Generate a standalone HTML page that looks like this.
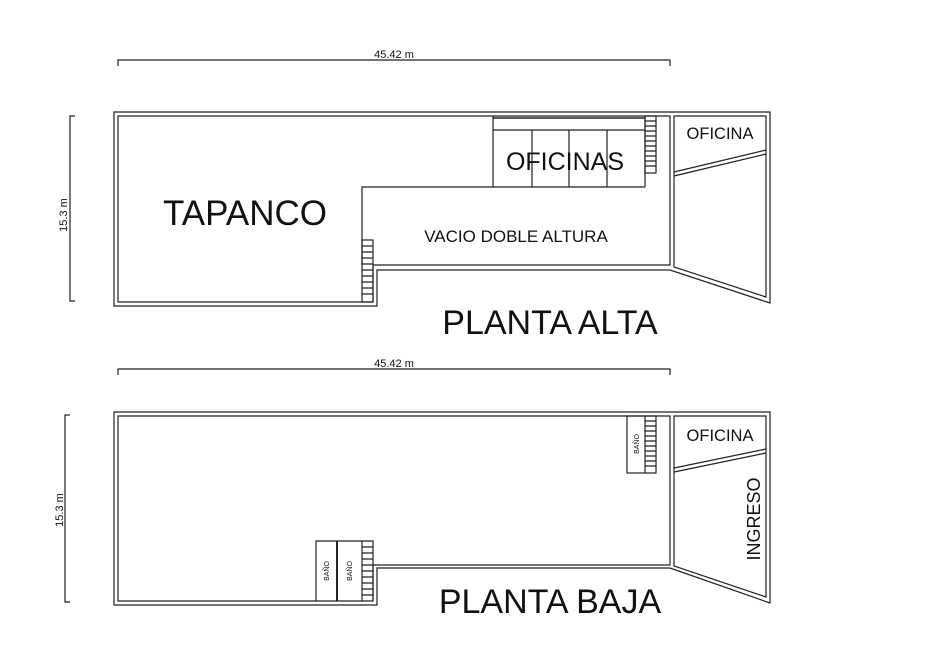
<!DOCTYPE html>
<html><head><meta charset="utf-8"><style>
html,body{margin:0;padding:0;background:#fff;}
svg{display:block;font-family:"Liberation Sans",sans-serif;}
</style></head><body>
<svg width="952" height="661" viewBox="0 0 952 661" xmlns="http://www.w3.org/2000/svg">
<g fill="none" stroke="#222" stroke-width="1.2">
<path d="M118 66 V60 H670 V66"/>
<path d="M75 116 H70 V301 H75"/>
<path d="M114 112 H770 V303 L670 270 H377 V306 H114 Z"/>
<path d="M118 116 H670 V265 H373 V302 H118 Z"/>
<path d="M674 116 H766 V297 L674 267 Z"/>
<path d="M674 172 L766 150 M674 176 L766 154"/>
<path d="M362 265 V187 H645"/>
<path d="M493 116 V187 M493 130 H645 M532 130 V187 M569 130 V187 M607 130 V187 M645 116 V187"/>
<path d="M493 118 H645" stroke-width="1.6"/>
<rect x="645" y="116" width="11" height="57"/>
<path d="M645 121H656M645 126H656M645 131H656M645 136H656M645 141H656M645 146H656M645 151H656M645 156H656M645 161H656M645 166H656"/>
<rect x="362" y="240" width="11" height="62"/>
<path d="M362 246H373M362 252H373M362 258H373M362 264H373M362 270H373M362 276H373M362 282H373M362 288H373M362 294H373"/>

<path d="M118 375 V369 H670 V375"/>
<path d="M70 415 H65 V602 H70"/>
<path d="M114 412 H770 V603 L670 568 H377 V605 H114 Z"/>
<path d="M118 416 H670 V565 H373 V601 H118 Z"/>
<path d="M674 416 H766 V597 L674 566 Z"/>
<path d="M674 468 L766 449 M674 472 L766 453"/>
<rect x="627" y="416" width="29" height="57"/>
<path d="M645 416 V473"/>
<path d="M645 421H656M645 426H656M645 431H656M645 436H656M645 441H656M645 446H656M645 451H656M645 456H656M645 461H656M645 466H656"/>
<path d="M316 601 V541 H373 V601"/>
<path d="M337 541 V601" stroke-width="2"/>
<path d="M362 541 V601"/>
<path d="M362 547H373M362 553H373M362 559H373M362 565H373M362 571H373M362 577H373M362 583H373M362 589H373M362 595H373"/>
</g>
<g fill="#111">
<text x="394" y="58" font-size="11" text-anchor="middle">45.42 m</text>
<text x="394" y="367" font-size="11" text-anchor="middle">45.42 m</text>
<text transform="translate(67,215) rotate(-90)" font-size="11" text-anchor="middle">15.3 m</text>
<text transform="translate(63,510) rotate(-90)" font-size="11" text-anchor="middle">15.3 m</text>
<text x="245" y="225" font-size="35" text-anchor="middle">TAPANCO</text>
<text x="565" y="170" font-size="25" text-anchor="middle">OFICINAS</text>
<text x="516" y="242" font-size="17" text-anchor="middle">VACIO DOBLE ALTURA</text>
<text x="720" y="139" font-size="16.5" text-anchor="middle">OFICINA</text>
<text x="720" y="441" font-size="16.5" text-anchor="middle">OFICINA</text>
<text x="550" y="334" font-size="34" text-anchor="middle">PLANTA ALTA</text>
<text x="550" y="613" font-size="34" text-anchor="middle">PLANTA BAJA</text>
<text transform="translate(760,519) rotate(-90)" font-size="18" text-anchor="middle">INGRESO</text>
<text transform="translate(639,444) rotate(-90)" font-size="7" text-anchor="middle">BAÑO</text>
<text transform="translate(329,571) rotate(-90)" font-size="7" text-anchor="middle">BAÑO</text>
<text transform="translate(352,571) rotate(-90)" font-size="7" text-anchor="middle">BAÑO</text>
</g>
</svg>
</body></html>
